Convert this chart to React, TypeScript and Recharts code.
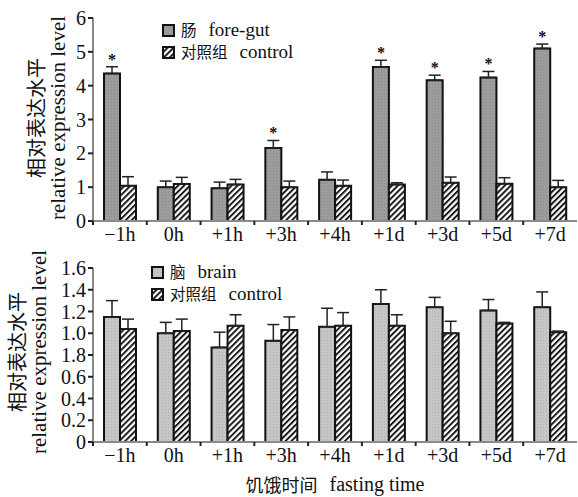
import { Bar, BarChart, ErrorBar, LabelList, XAxis, YAxis } from 'recharts'

const times = ['−1h', '0h', '+1h', '+3h', '+4h', '+1d', '+3d', '+5d', '+7d']

const gut = [4.36, 1.0, 0.97, 2.16, 1.22, 4.55, 4.16, 4.24, 5.1]
const gutErr = [0.2, 0.18, 0.18, 0.22, 0.23, 0.2, 0.15, 0.18, 0.13]
const gutControl = [1.04, 1.09, 1.08, 1.0, 1.04, 1.08, 1.13, 1.1, 1.0]
const gutControlErr = [0.27, 0.2, 0.15, 0.18, 0.17, 0.05, 0.17, 0.18, 0.2]
const gutSignificant = [true, false, false, true, false, true, true, true, true]

const brain = [1.15, 1.0, 0.87, 0.93, 1.06, 1.27, 1.24, 1.21, 1.24]
const brainErr = [0.15, 0.1, 0.14, 0.15, 0.17, 0.13, 0.09, 0.1, 0.14]
const brainControl = [1.04, 1.02, 1.07, 1.03, 1.07, 1.07, 1.0, 1.09, 1.01]
const brainControlErr = [0.09, 0.11, 0.1, 0.12, 0.12, 0.1, 0.11, 0.01, 0.01]

const gutTicks = [0, 1, 2, 3, 4, 5, 6]
const brainTicks = [0, 0.2, 0.4, 0.6, 0.8, 1.0, 1.2, 1.4, 1.6]
// the printed figure has "1.8" where 0.8 should be
const brainTickLabels = ['0', '0.2', '0.4', '0.6', '1.8', '1.0', '1.2', '1.4', '1.6']

const gutData = times.map((t, i) => ({
  time: t,
  gut: gut[i],
  gutErr: [0, gutErr[i]],
  sig: gutSignificant[i] ? '*' : '',
  control: gutControl[i],
  controlErr: [0, gutControlErr[i]],
}))

const brainData = times.map((t, i) => ({
  time: t,
  brain: brain[i],
  brainErr: [0, brainErr[i]],
  control: brainControl[i],
  controlErr: [0, brainControlErr[i]],
}))

const serif = '"Liberation Serif", "Noto Sans CJK SC", serif'
const cjk = '"Noto Sans CJK SC", sans-serif'
const axisGrey = '#8a8a8a'
const bandWidth = (578 - 93 - 1) / times.length

function BoundaryTick(props: any) {
  const { x, y, payload } = props
  return (
    <g>
      <line x1={x - bandWidth / 2} x2={x - bandWidth / 2} y1={y - 8} y2={y - 4} stroke="#222" strokeWidth={2} />
      <text x={x} y={y + 12} textAnchor="middle" fontFamily={serif} fontSize={20} fill="#111">
        {payload.value}
      </text>
    </g>
  )
}

function StarLabel(props: any) {
  const { x, y, width, height, value, index } = props
  if (!value) return null
  const perUnit = height / gut[index]
  const top = y - gutErr[index] * perUnit
  return (
    <text x={x + width / 2} y={top - 2} textAnchor="middle" fontFamily={serif} fontSize={16} fontWeight="bold" fill="#111">
      *
    </text>
  )
}

function Patterns() {
  return (
    <defs>
      <pattern id="hatch" patternUnits="userSpaceOnUse" width="4.2" height="4.2" patternTransform="rotate(45)">
        <rect width="4.2" height="4.2" fill="#fff" />
        <line x1="1" y1="0" x2="1" y2="4.2" stroke="#111" strokeWidth="1.9" />
      </pattern>
      <pattern id="gutFill" patternUnits="userSpaceOnUse" width="3" height="3">
        <rect width="3" height="3" fill="#9c9c9c" />
        <rect width="1" height="1" fill="#8c8c8c" />
      </pattern>
      <pattern id="brainFill" patternUnits="userSpaceOnUse" width="3" height="3">
        <rect width="3" height="3" fill="#c6c6c6" />
        <rect width="1" height="1" fill="#b2b2b2" />
      </pattern>
    </defs>
  )
}

function Swatch({ fill }: { fill: string }) {
  return (
    <svg width={13} height={13} style={{ verticalAlign: 'middle', marginRight: 6, marginTop: -3 }}>
      <rect x={1} y={1} width={11} height={11} fill={fill} stroke="#111" strokeWidth={2} />
    </svg>
  )
}

function LegendBox({ first, label, left, top }: { first: string; label: [string, string]; left: number; top: number }) {
  return (
    <div style={{ position: 'absolute', left, top, fontFamily: serif, fontSize: 19, lineHeight: '22px', color: '#111', whiteSpace: 'nowrap' }}>
      <div style={{ height: 22 }}>
        <Swatch fill={first} />
        <span style={{ fontFamily: cjk, fontSize: 15.5 }}>{label[0]}</span>
        <span style={{ marginLeft: 12 }}>{label[1]}</span>
      </div>
      <div style={{ height: 22 }}>
        <Swatch fill="url(#hatch)" />
        <span style={{ fontFamily: cjk, fontSize: 15.5 }}>对照组</span>
        <span style={{ marginLeft: 12 }}>control</span>
      </div>
    </div>
  )
}

function YLabel({ cx, cy }: { cx: number; cy: number }) {
  return (
    <g>
      <text x={cx} y={cy} transform={`rotate(-90 ${cx} ${cy})`} textAnchor="middle" fontFamily={cjk} fontSize={20} fill="#111" dominantBaseline="central">
        相对表达水平
      </text>
      <text x={cx + 23} y={cy} transform={`rotate(-90 ${cx + 23} ${cy})`} textAnchor="middle" fontFamily={serif} fontSize={21} fill="#111" dominantBaseline="central">
        relative expression level
      </text>
    </g>
  )
}

export default function App() {
  return (
    <div style={{ position: 'absolute', left: 0, top: 0, width: 578, height: 497, background: '#fff' }}>
      <div style={{ position: 'absolute', left: 0, top: 0 }}>
        <BarChart width={578} height={250} data={gutData} margin={{ top: 18, right: 1, bottom: 0, left: 0 }} barGap={0} barSize={16}>
          <Patterns />
          <XAxis dataKey="time" height={29} stroke={axisGrey} strokeWidth={2} tickLine={false} tick={<BoundaryTick />} interval={0} />
          <YAxis
            width={93}
            domain={[0, 6]}
            ticks={gutTicks}
            interval={0}
            stroke={axisGrey}
            strokeWidth={2}
            tickSize={5}
            tickLine={{ stroke: '#222' }}
            tick={{ fontFamily: serif, fontSize: 20, fill: '#111' }}
          />
          <Bar dataKey="gut" fill="url(#gutFill)" stroke="#111" strokeWidth={2} isAnimationActive={false}>
            <ErrorBar dataKey="gutErr" width={6} stroke="#222" strokeWidth={1.5} />
            <LabelList dataKey="sig" content={<StarLabel />} />
          </Bar>
          <Bar dataKey="control" fill="url(#hatch)" stroke="#111" strokeWidth={2} isAnimationActive={false}>
            <ErrorBar dataKey="controlErr" width={6} stroke="#222" strokeWidth={1.5} />
          </Bar>
          <YLabel cx={35} cy={118} />
        </BarChart>
        <LegendBox first="url(#gutFill)" label={['肠', 'fore-gut']} left={162} top={18} />
      </div>
      <div style={{ position: 'absolute', left: 0, top: 250 }}>
        <BarChart width={578} height={247} data={brainData} margin={{ top: 18, right: 1, bottom: 0, left: 0 }} barGap={0} barSize={16}>
          <Patterns />
          <XAxis dataKey="time" height={55} stroke={axisGrey} strokeWidth={2} tickLine={false} tick={<BoundaryTick />} interval={0} />
          <YAxis
            width={93}
            domain={[0, 1.6]}
            ticks={brainTicks}
            interval={0}
            tickFormatter={(v: number) => brainTickLabels[brainTicks.indexOf(v)]}
            stroke={axisGrey}
            strokeWidth={2}
            tickSize={5}
            tickLine={{ stroke: '#222' }}
            tick={{ fontFamily: serif, fontSize: 20, fill: '#111' }}
          />
          <Bar dataKey="brain" fill="url(#brainFill)" stroke="#111" strokeWidth={2} isAnimationActive={false}>
            <ErrorBar dataKey="brainErr" width={6} stroke="#222" strokeWidth={1.5} />
          </Bar>
          <Bar dataKey="control" fill="url(#hatch)" stroke="#111" strokeWidth={2} isAnimationActive={false}>
            <ErrorBar dataKey="controlErr" width={6} stroke="#222" strokeWidth={1.5} />
          </Bar>
          <YLabel cx={16} cy={102} />
          <text x={335} y={234} textAnchor="middle" fontFamily={serif} fontSize={20} fill="#111" dominantBaseline="central">
            <tspan fontFamily={cjk} fontSize={18}>饥饿时间</tspan>
            <tspan dx={12}>fasting time</tspan>
          </text>
        </BarChart>
        <LegendBox first="url(#brainFill)" label={['脑', 'brain']} left={151} top={10} />
      </div>
    </div>
  )
}
